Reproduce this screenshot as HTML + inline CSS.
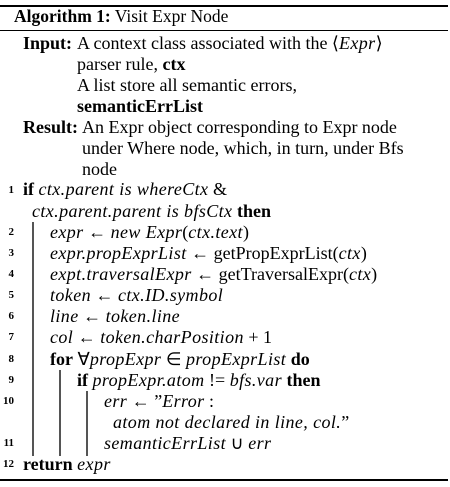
<!DOCTYPE html>
<html><head><meta charset="utf-8"><style>
body{margin:0;width:450px;height:487px;background:#fff;position:relative;overflow:hidden;font-family:"Liberation Serif",serif;font-size:18px;color:#000}
.l{position:absolute;white-space:nowrap;line-height:20px;height:20px}
.n{position:absolute;font-weight:bold;font-size:11px;line-height:20px;width:14px;text-align:right;left:0}
i{font-style:italic;letter-spacing:0.4px}
.rule{position:absolute;left:0;width:448px;background:#000}
.bar{position:absolute;width:1.5px;background:#555}
</style></head><body>
<div class="rule" style="top:5px;height:1.5px"></div>
<div class="l" style="left:14px;top:6px;font-size:17.5px"><b>Algorithm 1:</b> Visit Expr Node</div>
<div class="rule" style="top:30px;height:1px"></div>
<div class="l" style="left:23px;top:33px"><b>Input:</b></div>
<div class="l" style="left:77px;top:33px">A context class associated with the ⟨<i>Expr</i>⟩</div>
<div class="l" style="left:77px;top:54px">parser rule, <b>ctx</b></div>
<div class="l" style="left:77px;top:75px">A list store all semantic errors,</div>
<div class="l" style="left:77px;top:96px"><b>semanticErrList</b></div>
<div class="l" style="left:23px;top:117px"><b>Result:</b></div>
<div class="l" style="left:82px;top:117px">An Expr object corresponding to Expr node</div>
<div class="l" style="left:82px;top:138px">under Where node, which, in turn, under Bfs</div>
<div class="l" style="left:82px;top:159px">node</div>

<div class="n" style="top:180px">1</div>
<div class="l" style="left:23px;top:179px"><b>if</b> <i>ctx.parent is whereCtx</i> &amp;</div>
<div class="l" style="left:32px;top:201px"><i>ctx.parent.parent is bfsCtx</i> <b>then</b></div>
<div class="bar" style="left:32px;top:222px;height:234px"></div>
<div class="n" style="top:222px">2</div>
<div class="l" style="left:50px;top:222px"><i>expr</i> ← <i>new Expr</i>(<i>ctx.text</i>)</div>
<div class="n" style="top:243px">3</div>
<div class="l" style="left:50px;top:243px"><i>expr.propExprList</i> ← getPropExprList(<i>ctx</i>)</div>
<div class="n" style="top:264px">4</div>
<div class="l" style="left:50px;top:264px"><i>expt.traversalExpr</i> ← getTraversalExpr(<i>ctx</i>)</div>
<div class="n" style="top:285px">5</div>
<div class="l" style="left:50px;top:285px"><i>token</i> ← <i>ctx.ID.symbol</i></div>
<div class="n" style="top:306px">6</div>
<div class="l" style="left:50px;top:306px"><i>line</i> ← <i>token.line</i></div>
<div class="n" style="top:327px">7</div>
<div class="l" style="left:50px;top:327px"><i>col</i> ← <i>token.charPosition</i> + 1</div>
<div class="n" style="top:349px">8</div>
<div class="l" style="left:50px;top:349px"><b>for</b> ∀<i>propExpr</i> ∈ <i>propExprList</i> <b>do</b></div>
<div class="bar" style="left:59px;top:370px;height:86px"></div>
<div class="n" style="top:370px">9</div>
<div class="l" style="left:77px;top:370px"><b>if</b> <i>propExpr.atom</i> != <i>bfs.var</i> <b>then</b></div>
<div class="bar" style="left:86px;top:391px;height:65px"></div>
<div class="n" style="top:391px">10</div>
<div class="l" style="left:104px;top:391px"><i>err</i> ← ”<i>Error</i> :</div>
<div class="l" style="left:113px;top:412px"><i>atom not declared in line, col.</i>”</div>
<div class="n" style="top:433px">11</div>
<div class="l" style="left:104px;top:433px"><i>semanticErrList</i> ∪ <i>err</i></div>
<div class="n" style="top:454px">12</div>
<div class="l" style="left:23px;top:454px"><b>return</b> <i>expr</i></div>
<div class="rule" style="top:479px;height:1.5px"></div>
</body></html>
